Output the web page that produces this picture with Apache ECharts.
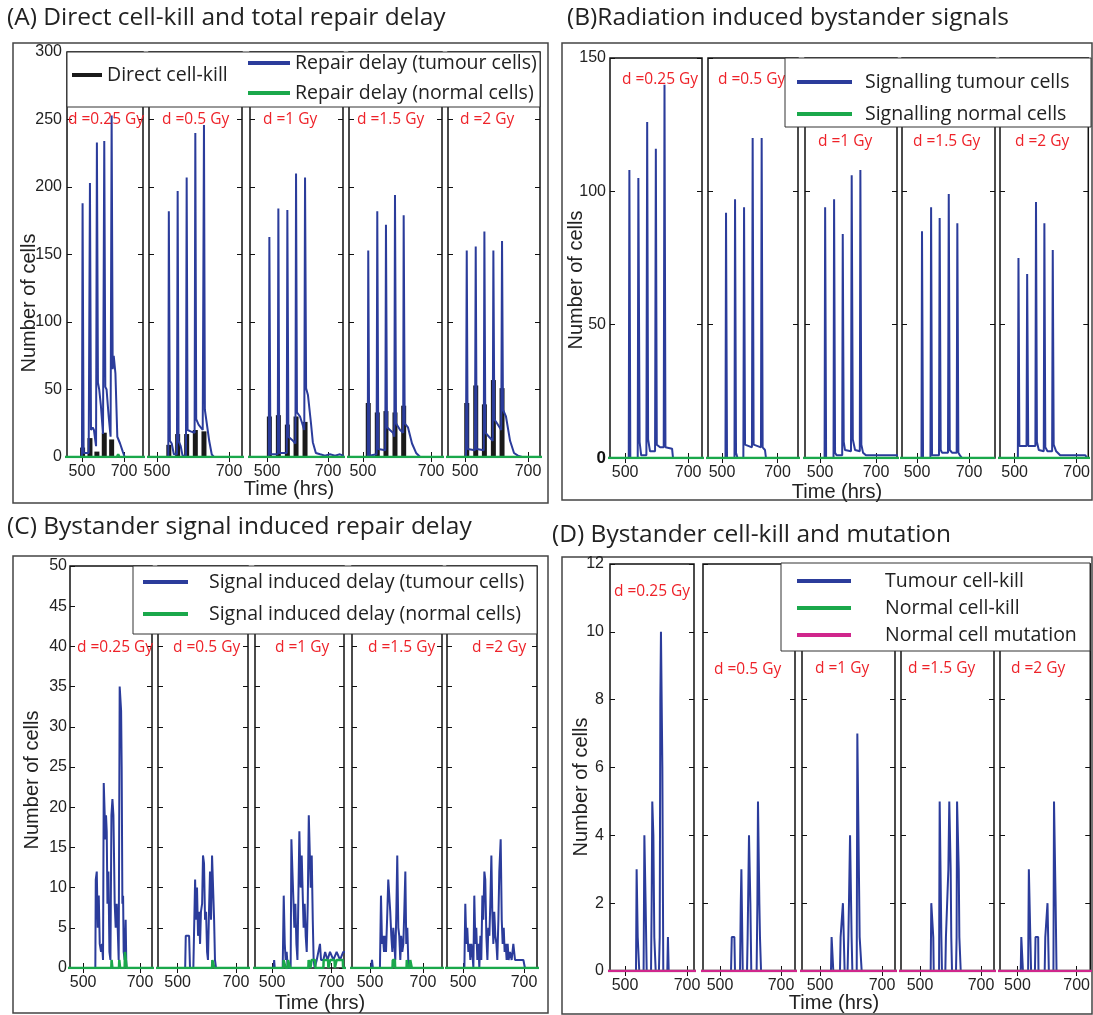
<!DOCTYPE html>
<html><head><meta charset="utf-8">
<script src="https://cdn.jsdelivr.net/npm/echarts@6/dist/echarts.min.js"></script>
<style>html,body{margin:0;padding:0;background:#fff}#c{width:1093px;height:1015px}</style>
</head><body><div id="c"></div>
<script>
// ---------------- DATA ----------------
const doseLabels = ['d =0.25 Gy', 'd =0.5 Gy', 'd =1 Gy', 'd =1.5 Gy', 'd =2 Gy'];
const xTickValues = [500, 700];
const panelTitles = ['(A) Direct cell-kill and total repair delay', '(B)Radiation induced bystander signals',
  '(C) Bystander signal induced repair delay', '(D) Bystander cell-kill and mutation'];

// (A) [time (hrs), cells] per dose
const A_directKill = [
  [[503,7],[538,14],[571,4],[606,18],[641,13]],
  [[533,9],[557.5,17],[582.5,17],[606.5,20],[630.5,19]],
  [[507.5,30],[537,31],[566.5,24],[595,30],[624.5,26]],
  [[515.5,40],[542,33],[567.5,34],[594,33],[619.5,38]],
  [[505.5,40],[534,53],[561.5,39],[590,57],[617.5,51]]
];
const A_repairTumour = [
  [[400,0],[500,0],[503,188],[508,3],[532,3],[538,203],[543,20],[551,22],[557,20],[567,8],[571,233],[576,55],[582,50],[590,38],[600,17],[606,234],[611,52],[617,50],[627,30],[636,15],[641,253],[646,65],[651,75],[659,62],[668,15],[681,10],[694,4],[703,0],[800,0]],
  [[400,0],[531.5,0],[533,182],[536,12],[541,10],[547,2],[555.5,2],[557.5,197],[560,12],[566,8],[571,1],[580.5,1],[582.5,207],[585,20],[593.5,19],[604.5,18],[606.5,240],[609,28],[615.5,24],[627,20],[630.5,246],[633,35],[638,35],[645,12],[652,2],[658,0],[800,0]],
  [[400,0],[505.5,0],[507.5,163],[511,2],[535,2],[537,184],[540,3],[564.5,3],[566.5,183],[570,15],[585,12],[593,10],[595,210],[598,33],[608,30],[622,20],[624.5,207],[628,51],[634,46],[644,25],[650,11],[660,3],[674,2],[690,1],[706,2],[723,1],[739,2],[749,1],[800,1]],
  [[400,0],[514,0],[515.5,153],[518.5,1],[540,2],[542,182],[545,6],[565.5,5],[567.5,172],[570.5,22],[588,18],[592,15],[594,194],[597,25],[609,20],[618,18],[619.5,179],[622.5,25],[632,22],[644,10],[656,3],[668,0],[800,0]],
  [[400,0],[503,0],[505.5,153],[508.5,6],[531.5,5],[534,156],[537,6],[559.5,5],[561.5,167],[564.5,18],[576,15],[588,12],[590,153],[593,28],[601.5,25],[615,20],[617.5,160],[620.5,35],[630,30],[643,12],[655.5,3],[668,1],[681,0],[800,0]]
];
const A_repairNormal = [
  [[400,0],[666,0],[672,2],[678,0],[800,0]],
  [[400,0],[634,0],[638,1],[642,0],[800,0]],
  [[400,0],[800,0]],
  [[400,0],[800,0]],
  [[400,0],[800,0]]
];

// (B)
const B_signalTumour = [
  [[400,0],[511.5,0],[513.5,108],[516.5,0],[540,0],[542,105],[546,6],[551,1],[567.5,1],[570,126],[573,7],[579,2.5],[595,2.5],[597.5,116],[600.5,5],[611,4],[622.5,4],[625,140],[628,4],[649,3.5],[652,0],[800,0]],
  [[400,0],[512.5,0],[514.5,92],[518,0],[545,0],[547,97],[550.5,2],[556,0],[577,0],[579.5,94],[583,5],[608,4],[610.5,120],[614,5],[640.5,4],[643,120],[646.5,4],[655,3],[658.5,0],[800,0]],
  [[400,0],[516,0],[518,94],[521.5,0],[548,0],[550,97],[553.5,2],[559,1],[579,1],[581,84],[584.5,6],[589,3],[610.5,2.5],[613,106],[617,7],[625,3],[642,2.5],[644,108],[647.5,5],[653.5,2],[664,1],[800,1]],
  [[400,0],[517,0],[519,85],[523,0],[551.5,0],[554,94],[557.5,1],[584.5,1],[587,90],[591,3],[596,2],[619,2],[622,99],[626,3],[634.5,2],[652.5,2],[655,88],[659,2],[665,1],[673,0],[800,0]],
  [[400,0],[510.5,0],[512.5,75],[515.5,4.5],[538.5,4.5],[540.5,69],[544,4.5],[567,4.5],[569,96],[572,6],[578,3],[594,2.5],[596,88],[599,4],[606,2.5],[621,2.5],[623,78],[626,5],[634,2.5],[647,1],[728,1],[734,0],[800,0]]
];
const B_signalNormal = [
  [[400,0],[800,0]], [[400,0],[800,0]], [[400,0],[800,0]], [[400,0],[800,0]], [[400,0],[800,0]]
];

// (C)
const C_delayTumour = [
  [[400,0],[543,0],[544.5,11],[548,12],[551.5,5],[555,9],[558.5,3],[563,2],[566.5,3],[570,1],[572.5,23],[576,19],[578.5,16],[580.5,19],[583,17],[585.5,8],[589,12],[592.5,2],[596,1],[599.5,19],[603,21],[606.5,19],[609,13],[611,8],[614.5,5],[618,8],[621.5,5],[625,1],[628.5,35],[631,35],[633.5,32],[635.5,25],[638,8],[640.5,9],[642.5,2],[646,1],[649.5,6],[652,0],[800,0]],
  [[400,0],[526,0],[528,4],[533.5,4],[539.5,4],[542.5,0],[554,0],[560,11],[563,6],[566.5,10],[570,4],[573.5,7],[577,3],[580,7],[584,8],[587,14],[590.5,13],[594,6],[597.5,7],[601,2],[604,1],[607.5,7],[611,12],[614.5,6],[618,14],[621,14],[625,6],[628,1],[631.5,0],[800,0]],
  [[400,0],[505,0],[507,1],[509,0],[536,0],[539.5,9],[543,3],[546,1],[549.5,2],[553,0],[563,0],[565.5,16],[569,12],[572,12],[575.5,5],[579,8],[582.5,3],[586,1],[592.5,17],[597,10],[600.5,14],[604,9],[607,5],[610.5,8],[614,4],[617.5,2],[621,8],[624.5,19],[627.5,19],[631,10],[634.5,14],[638,6],[641,1],[644.5,0],[651.5,1],[662.5,3],[666,1],[674,1],[680,2],[688,1],[696.5,2],[708,1],[719,2],[730.5,1],[741.5,2],[800,2]],
  [[400,0],[504,0],[507.5,1],[511,0],[537.5,0],[541.5,9],[545.5,3],[549,4],[553,2],[556.5,4],[560.5,2],[565.5,7],[569,11],[573,11],[576.5,7],[580.5,4],[584.5,2],[588,5],[592,3],[595.5,1],[599.5,7],[603,14],[607,5],[610.5,4],[614.5,1],[618,4],[622,2],[626,3],[629.5,7],[633.5,12],[637,3],[641,5],[644.5,1],[648.5,0],[800,0]],
  [[400,0],[504.5,0],[507.5,8],[511,3],[514,5],[517.5,2],[521,3],[524,1],[527.5,3],[530.5,2],[534,0],[537,9],[540.5,3],[543.5,5],[547,1],[550.5,3],[553.5,0],[557,4],[560,1],[563.5,9],[566.5,6],[570,12],[573,11],[576.5,4],[580,1],[583,5],[586.5,4],[589.5,8],[593,14],[596,7],[599.5,3],[602.5,7],[606,4],[609.5,3],[612.5,1],[616,6],[619,12],[623.5,16],[627,6],[630,3],[633.5,5],[636.5,2],[640,3],[643,1],[646.5,3],[649.5,1],[654,2],[659.5,1],[665,3],[670.5,1],[676,1],[687,1],[698,1],[703,0],[800,0]]
];
const C_delayNormal = [
  [[400,0],[599,0],[600,1],[602,1],[603,0],[626,0],[627,1],[629,1],[630,0],[646,0],[647,2],[652,2],[653,0],[800,0]],
  [[400,0],[618,0],[619,1],[625,1],[626,0],[800,0]],
  [[400,0],[538,0],[539,1],[545,1],[546,0],[553,0],[554,1],[560,1],[561,0],[623,0],[624,1],[630,0],[633,0],[634,1],[646,1],[647,0],[674,0],[675,1],[690,1],[691,0],[696,0],[697,1],[712,1],[713,0],[718,0],[719,1],[740,1],[741,0],[800,0]],
  [[400,0],[585,0],[586,1],[594,1],[595,0],[638,0],[639,1],[642,1],[643,0],[651,0],[652,1],[657,1],[658,0],[800,0]],
  [[400,0],[800,0]]
];

// (D)
const D_tumourKill = [
  [[400,0],[535.5,0],[537.5,3],[539.5,3],[541,1],[545,1],[546,0],[560,0],[562.5,4],[565.5,4],[566.5,2],[569,2],[570,0],[584,0],[586,2],[588,5],[590.5,5],[591.5,4],[593.5,2],[594.5,1],[598,1],[599,0],[609.5,0],[612,1],[614,8],[616,10],[619.5,10],[620.5,6],[622.5,2],[623.5,0],[636.5,0],[638.5,1],[641,0],[800,0]],
  [[400,0],[536,0],[538.5,1],[547,1],[549,0],[565.5,0],[568,2],[570,3],[573,3],[574.5,0],[588.5,0],[590.5,1],[594,1],[595,4],[598.5,4],[599.5,2],[601.5,2],[602.5,0],[620,0],[622.5,2],[624.5,5],[628,5],[629,2],[631,1],[633.5,1],[634.5,0],[800,0]],
  [[400,0],[535.5,0],[537.5,1],[542,1],[543,0],[564.5,0],[566.5,1],[571,1],[574,2],[577.5,2],[579.5,0],[589,0],[591.5,1],[593.5,2],[597,4],[601,4],[602,1],[604.5,0],[618.5,0],[620.5,7],[626,7],[628,1],[632.5,1],[634.5,0],[800,0]],
  [[400,0],[535,0],[537,2],[541.5,2],[543.5,1],[545,0],[562.5,0],[564.5,5],[569,5],[570,1],[572,0],[583,0],[585,1],[590.5,1],[593,3],[595,3],[596,5],[599.5,5],[600.5,3],[602.5,1],[605,0],[618,0],[620,1],[621.5,5],[624.5,5],[627,3],[629,1],[632,1],[633.5,0],[800,0]],
  [[400,0],[511,0],[513,1],[517.5,1],[518.5,0],[536,0],[538.5,3],[542.5,3],[543.5,1],[546,0],[559,0],[561,1],[570,1],[571,0],[592,0],[594,1],[599.5,1],[601.5,2],[605,2],[606,0],[621.5,0],[623.5,5],[628,5],[629,2],[631,2],[632,0],[800,0]]
];
const D_normalKill = [
  [[400,0],[800,0]], [[400,0],[800,0]], [[400,0],[800,0]], [[400,0],[800,0]], [[400,0],[800,0]]
];
const D_normalMutation = [
  [[400,0],[800,0]], [[400,0],[800,0]], [[400,0],[800,0]], [[400,0],[800,0]], [[400,0],[800,0]]
];

// ---------------- STYLE / LAYOUT ----------------
const BLUE = '#2b3c9b', GREEN = '#1aa84b', BLACK = '#1a1a1a', MAGENTA = '#d0268c';
const AXFONT = '"Liberation Sans", Arial, sans-serif';
const TXFONT = '"Open Sans", "Noto Sans", sans-serif';

const panels = [
  { yMax:300, yInterval:50, top:52, height:405, yLabelMargin:5, boldZero:false,
    cells:[[67,76],[149,93],[250,93],[349,93],[448,92]],
    xRanges:[[429,790],[478,736],[444,749],[459,732],[446,738]],
    dosePos:[[68,120],[162,120],[263,120],[357,120],[460,120]],
    series:[
      {name:'Repair delay (tumour cells)', type:'line', data:A_repairTumour, color:BLUE, width:2},
      {name:'Direct cell-kill', type:'bar', data:A_directKill, color:BLACK},
      {name:'Repair delay (normal cells)', type:'line', data:A_repairNormal, color:GREEN, width:2.5}
    ]},
  { yMax:150, yInterval:50, top:58, height:400, yLabelMargin:4, boldZero:true,
    cells:[[610,92],[708,90],[805,92],[902,93],[1000,91]],
    xRanges:[[452,744],[449.5,774],[446,775],[442,800],[453,737.5]],
    dosePos:[[622,80],[718,80],[818,142],[913,142],[1015,142]],
    series:[
      {name:'Signalling tumour cells', type:'line', data:B_signalTumour, color:BLUE, width:2},
      {name:'Signalling normal cells', type:'line', data:B_signalNormal, color:GREEN, width:2.5}
    ]},
  { yMax:50, yInterval:5, top:566, height:402, yLabelMargin:3, boldZero:false,
    cells:[[70,82],[158,90],[255,89],[352,90],[447,90]],
    xRanges:[[454,742],[433,741],[442,744],[432,772],[447.5,742.6]],
    dosePos:[[77,648],[173,648],[275,648],[368,648],[472,648]],
    series:[
      {name:'Signal induced delay (tumour cells)', type:'line', data:C_delayTumour, color:BLUE, width:2},
      {name:'Signal induced delay (normal cells)', type:'line', data:C_delayNormal, color:GREEN, width:2.5}
    ]},
  { yMax:12, yInterval:2, top:564, height:407, yLabelMargin:6, boldZero:false,
    cells:[[610,84],[703,92],[802,93],[901,93],[1000,92]],
    xRanges:[[451.6,722.6],[444,746],[442,742],[437.7,742.6],[441,746]],
    dosePos:[[614,592],[714,670],[815,669],[908,669],[1011,669]],
    series:[
      {name:'Tumour cell-kill', type:'line', data:D_tumourKill, color:BLUE, width:2},
      {name:'Normal cell-kill', type:'line', data:D_normalKill, color:GREEN, width:2.5},
      {name:'Normal cell mutation', type:'line', data:D_normalMutation, color:MAGENTA, width:2.5}
    ]}
];

const grids = [], xAxes = [], yAxes = [], series = [], graphics = [];
let gi = 0;
const tick = {inside:true, length:5, lineStyle:{color:'#111', width:1}};
panels.forEach(p => {
  p.cells.forEach((cell, i) => {
    grids.push({left:cell[0], top:p.top, width:cell[1], height:p.height, show:true,
      borderColor:'#111', borderWidth:1.5, backgroundColor:'transparent'});
    const [xmin, xmax] = p.xRanges[i];
    const lab = {fontSize:16, fontFamily:AXFONT, color:'#222'};
    xAxes.push({type:'value', gridIndex:gi, position:'bottom', min:xmin, max:xmax,
      axisLine:{show:false}, splitLine:{show:false},
      axisTick:Object.assign({customValues:xTickValues}, tick),
      axisLabel:Object.assign({customValues:xTickValues, margin:7}, lab)});
    xAxes.push({type:'value', gridIndex:gi, position:'top', min:xmin, max:xmax,
      axisLine:{show:false}, splitLine:{show:false},
      axisTick:Object.assign({customValues:xTickValues}, tick), axisLabel:{show:false}});
    const yLab = Object.assign({show:i===0, margin:p.yLabelMargin}, lab);
    if (p.boldZero) {
      yLab.formatter = v => v === 0 ? '{z|0}' : String(v);
      yLab.rich = {z:{fontWeight:'bold', fontSize:17, fontFamily:AXFONT, color:'#111'}};
    }
    yAxes.push({type:'value', gridIndex:gi, position:'left', min:0, max:p.yMax, interval:p.yInterval,
      axisLine:{show:false}, splitLine:{show:false}, axisTick:tick, axisLabel:yLab});
    yAxes.push({type:'value', gridIndex:gi, position:'right', min:0, max:p.yMax, interval:p.yInterval,
      axisLine:{show:false}, splitLine:{show:false}, axisTick:tick, axisLabel:{show:false}});
    p.series.forEach(s => {
      const base = {name:s.name, xAxisIndex:2*gi, yAxisIndex:2*gi, data:s.data[i], silent:true, animation:false};
      if (s.type === 'bar') {
        series.push(Object.assign(base, {type:'bar', barWidth:5, itemStyle:{color:s.color}}));
      } else {
        series.push(Object.assign(base, {type:'line', showSymbol:false, symbol:'none',
          lineStyle:{color:s.color, width:s.width}, itemStyle:{color:s.color}}));
      }
    });
    graphics.push({type:'text', x:p.dosePos[i][0], y:p.dosePos[i][1], z:1,
      style:{text:doseLabels[i], font:'15.5px ' + TXFONT, fill:'#ee2229', align:'left', verticalAlign:'middle'}});
    gi++;
  });
});

// outer panel frames
[[13,43,535,460],[562,43,530,457],[13,556,535,457],[562,557,530,457]].forEach(r => {
  graphics.push({type:'rect', shape:{x:r[0], y:r[1], width:r[2], height:r[3]}, z:0,
    style:{fill:null, stroke:'#444', lineWidth:1.5}});
});
// panel titles
[[7,18],[567,18],[7,527],[552,535]].forEach((t, k) => {
  graphics.push({type:'text', x:t[0], y:t[1], z:10,
    style:{text:panelTitles[k], font:'24.5px ' + TXFONT, fill:'#222', align:'left', verticalAlign:'middle'}});
});
// axis titles
[[29,303],[576,280],[32,780],[581,787]].forEach(t => {
  graphics.push({type:'text', x:t[0], y:t[1], rotation:Math.PI/2, z:10,
    style:{text:'Number of cells', font:'20px ' + AXFONT, fill:'#222', align:'center', verticalAlign:'middle'}});
});
[[289,489],[837,492],[320,1003],[834,1003]].forEach(t => {
  graphics.push({type:'text', x:t[0], y:t[1], z:10,
    style:{text:'Time (hrs)', font:'20px ' + AXFONT, fill:'#222', align:'center', verticalAlign:'middle'}});
});
// legend boxes
[[67,52,473,55],[785,58,306,69],[133,566,404,68],[781,563,309,88]].forEach(r => {
  graphics.push({type:'rect', shape:{x:r[0], y:r[1], width:r[2], height:r[3]}, z:10,
    style:{fill:'#fff', stroke:'#333', lineWidth:1}});
});

const legendText = (pad) => ({fontSize:19.5, lineHeight:20, fontFamily:TXFONT, color:'#222', padding:[0,0,0,pad]});
const legends = [
  {left:72, top:65, itemWidth:30, data:['Direct cell-kill'], textStyle:legendText(0)},
  {left:248, top:53, orient:'vertical', itemWidth:42, itemGap:10,
   data:['Repair delay (tumour cells)','Repair delay (normal cells)'], textStyle:legendText(0)},
  {left:797, top:72, orient:'vertical', itemWidth:55, itemGap:12,
   data:['Signalling tumour cells','Signalling normal cells'], textStyle:legendText(8)},
  {left:143, top:572, orient:'vertical', itemWidth:45, itemGap:12,
   data:['Signal induced delay (tumour cells)','Signal induced delay (normal cells)'], textStyle:legendText(16)},
  {left:797, top:571, orient:'vertical', itemWidth:54, itemGap:7,
   data:['Tumour cell-kill','Normal cell-kill','Normal cell mutation'], textStyle:legendText(29)}
].map(l => Object.assign({icon:'rect', itemHeight:4, padding:0, z:20, selectedMode:false}, l));

const chart = echarts.init(document.getElementById('c'), null, {renderer:'canvas'});
chart.setOption({
  animation:false,
  backgroundColor:'#fff',
  grid:grids, xAxis:xAxes, yAxis:yAxes, series:series,
  legend:legends, graphic:{elements:graphics}
});
</script></body></html>
